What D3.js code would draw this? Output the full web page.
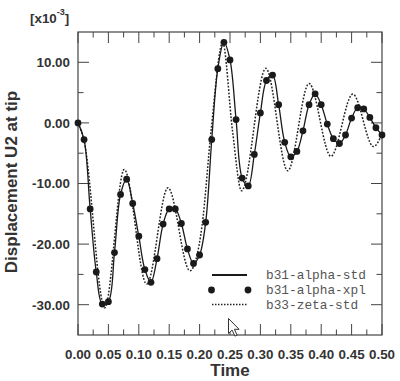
<!DOCTYPE html>
<html>
<head>
<meta charset="utf-8">
<script src="https://cdn.jsdelivr.net/npm/d3@7"></script>
<style>
  body { margin: 0; background: #fff; }
  svg { display: block; }
  .tick-label { font-family: "Liberation Sans", Arial, sans-serif; font-weight: bold; font-size: 13.4px; fill: #333; }
  .axis-title { font-family: "Liberation Sans", Arial, sans-serif; font-weight: bold; font-size: 17px; fill: #333; }
  .legend-text { font-family: "Liberation Mono", "Courier New", monospace; font-size: 12.8px; fill: #555; }
</style>
</head>
<body>
<script>
// time samples for the b31 runs (every 0.01)
var times = d3.range(51).map(function(i) { return +(i * 0.01).toFixed(2); });

// b31-alpha-xpl markers [x10^-3]
var xplValues = [0, -2.75, -14.2, -24.6, -29.9, -29.5, -21.4, -11.8, -9.3, -13.3,
  -18.7, -24.2, -26.3, -22.4, -16.7, -14.2, -14.2, -16.6, -20.8, -23.2,
  -21.8, -16.4, -2.75, 8.95, 13.3, 10.4, 0.55, -9.1, -10.4, -5.2,
  1.65, 7.0, 7.9, 3.0, -3.2, -5.6, -4.7, -1.3, 3.0, 4.8,
  3.0, -0.2, -2.6, -3.4, -2.0, 0.8, 2.5, 2.3, 0.9, -0.8, -2.0];

// b31-alpha-std runs through the same points
var stdValues = xplValues.slice();

// b33-zeta-std (dotted), extremes and a few crossing points
var zetaTimes = [0, 0.01, 0.044, 0.076, 0.113, 0.148, 0.184, 0.204, 0.219, 0.238, 0.254, 0.269,
  0.309, 0.345, 0.380, 0.416, 0.452, 0.486, 0.5];
var zetaValues = [0, -3.0, -30.5, -7.7, -26.6, -10.7, -24.4, -17.0, -1.2, 13.2, -1.2, -11.2,
  9.0, -7.9, 6.5, -5.5, 4.75, -3.9, -1.8];

var xTicks = d3.range(0, 0.501, 0.05);
var yTicks = [-30, -20, -10, 0, 10];
var seriesNames = ["b31-alpha-std", "b31-alpha-xpl", "b33-zeta-std"];

var width = 400, height = 381;
var margin = {left: 78, top: 32, right: 18, bottom: 46};
var w = width - margin.left - margin.right,
    h = height - margin.top - margin.bottom;

var svg = d3.select("body").append("svg")
    .attr("width", width)
    .attr("height", height);

var x = d3.scaleLinear().domain([0, 0.5]).range([0, w]);
var y = d3.scaleLinear().domain([-35, 15]).range([h, 0]);

var g = svg.append("g").attr("transform", "translate(" + margin.left + "," + margin.top + ")");

// frame
g.append("rect")
    .attr("width", w).attr("height", h)
    .attr("fill", "none").attr("stroke", "#444").attr("stroke-width", 1.2);

// inward ticks on all four sides
var frameColor = "#444";
var xMinor = d3.range(0.025, 0.5, 0.05);
var yMinor = [-25, -15, -5, 5];
function tickLines(vals, len, horiz) {
  vals.forEach(function(v) {
    if (horiz) {
      var px = x(v);
      g.append("line").attr("x1", px).attr("x2", px).attr("y1", 0).attr("y2", len)
        .attr("stroke", frameColor).attr("stroke-width", 1);
      g.append("line").attr("x1", px).attr("x2", px).attr("y1", h).attr("y2", h - len)
        .attr("stroke", frameColor).attr("stroke-width", 1);
    } else {
      var py = y(v);
      g.append("line").attr("x1", 0).attr("x2", len).attr("y1", py).attr("y2", py)
        .attr("stroke", frameColor).attr("stroke-width", 1);
      g.append("line").attr("x1", w).attr("x2", w - len).attr("y1", py).attr("y2", py)
        .attr("stroke", frameColor).attr("stroke-width", 1);
    }
  });
}
tickLines(xTicks, 11, true);
tickLines(xMinor, 5.5, true);
tickLines(yTicks, 11, false);
tickLines(yMinor, 5.5, false);

// tick labels
g.selectAll(".xl").data(xTicks).enter().append("text")
    .attr("class", "tick-label")
    .attr("x", function(d) { return x(d); })
    .attr("y", h + 24)
    .attr("text-anchor", "middle")
    .text(function(d) { return d.toFixed(2); });

g.selectAll(".yl").data(yTicks).enter().append("text")
    .attr("class", "tick-label")
    .attr("x", -8)
    .attr("y", function(d) { return y(d) + 4.8; })
    .attr("text-anchor", "end")
    .text(function(d) { return d.toFixed(2); });

// axis titles
svg.append("text").attr("class", "axis-title")
    .attr("x", margin.left + w / 2).attr("y", 376)
    .attr("text-anchor", "middle").text("Time");

svg.append("text").attr("class", "axis-title")
    .attr("transform", "translate(17,182) rotate(-90)")
    .attr("text-anchor", "middle").text("Displacement U2 at tip");

// multiplier label
var mult = svg.append("text").attr("class", "tick-label").attr("x", 30).attr("y", 22.5);
mult.append("tspan").text("[x10");
mult.append("tspan").attr("dy", -8).attr("font-size", "9px").text("-3");
mult.append("tspan").attr("dy", 8).text("]");

// lines
var stdLine = d3.line()
    .x(function(d, i) { return x(times[i]); })
    .y(function(d) { return y(d); })
    .curve(d3.curveCatmullRom.alpha(0.5));

var zetaLine = d3.line()
    .x(function(d, i) { return x(zetaTimes[i]); })
    .y(function(d) { return y(d); })
    .curve(d3.curveMonotoneX);

g.append("path").datum(zetaValues)
    .attr("d", zetaLine)
    .attr("fill", "none").attr("stroke", "#222")
    .attr("stroke-width", 1.5).attr("stroke-dasharray", "1.8,1.6");

g.append("path").datum(stdValues)
    .attr("d", stdLine)
    .attr("fill", "none").attr("stroke", "#1a1a1a").attr("stroke-width", 1.3);

g.selectAll(".dot").data(xplValues).enter().append("circle")
    .attr("cx", function(d, i) { return x(times[i]); })
    .attr("cy", function(d) { return y(d); })
    .attr("r", 3.4)
    .attr("fill", "#1a1a1a");

// legend
var lg = svg.append("g");
var ly = [275, 290, 304.5];
lg.append("line").attr("x1", 212).attr("x2", 247).attr("y1", ly[0]).attr("y2", ly[0])
    .attr("stroke", "#1a1a1a").attr("stroke-width", 1.8);
[211.5, 248].forEach(function(cx) {
  lg.append("circle").attr("cx", cx).attr("cy", ly[1]).attr("r", 3.4).attr("fill", "#1a1a1a");
});
lg.append("line").attr("x1", 212).attr("x2", 247).attr("y1", ly[2]).attr("y2", ly[2])
    .attr("stroke", "#222").attr("stroke-width", 1.5).attr("stroke-dasharray", "1.5,1.5");
lg.selectAll("text").data(seriesNames).enter().append("text")
    .attr("class", "legend-text")
    .attr("x", 266)
    .attr("y", function(d, i) { return ly[i] + 4; })
    .text(function(d) { return d; });

// mouse pointer caught in the screenshot
svg.append("path")
    .attr("d", "M0,0 L0,15 L3.6,11.6 L6.4,17.6 L8.6,16.6 L5.9,10.8 L10.6,10.8 Z")
    .attr("transform", "translate(228.5,318.5)")
    .attr("fill", "#fff").attr("stroke", "#333").attr("stroke-width", 1);
</script>
</body>
</html>
